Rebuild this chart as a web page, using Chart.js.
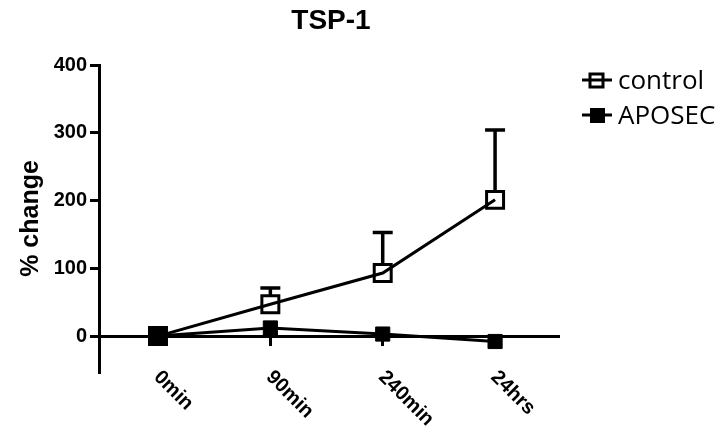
<!DOCTYPE html>
<html>
<head>
<meta charset="utf-8">
<script src="https://cdn.jsdelivr.net/npm/chart.js@4.4.0/dist/chart.umd.min.js"></script>
<style>
  html, body { margin: 0; padding: 0; background: #fff; }
  #wrap { width: 727px; height: 432px; }
</style>
</head>
<body>
<div id="wrap"><canvas id="myChart"></canvas></div>
<script>
const categories = ['0min', '90min', '240min', '24hrs'];
const controlValues = [0, 47, 93, 201];
const controlErrors = [0, 24, 60, 103];
const aposecValues = [0, 12, 3, -8];
const yTicks = [0, 100, 200, 300, 400];

const chartTitle = 'TSP-1';
const yTitle = '% change';
const seriesNames = ['control', 'APOSEC'];

const boldFont = '"Liberation Sans", Arial, sans-serif';

function toPoints(values) {
  return values.map((v, i) => ({ x: i, y: v }));
}

// error bars, tilted x labels, title and legend drawn on top
const extras = {
  id: 'extras',
  afterDatasetsDraw(chart) {
    const c = chart.ctx;
    const y = chart.scales.y;
    const meta = chart.getDatasetMeta(0);
    c.save();
    c.strokeStyle = '#000';
    c.lineWidth = 3.5;
    meta.data.forEach((pt, i) => {
      if (!controlErrors[i]) return;
      const top = y.getPixelForValue(controlValues[i] + controlErrors[i]);
      c.beginPath();
      c.moveTo(pt.x, pt.y - 9);
      c.lineTo(pt.x, top);
      c.moveTo(pt.x - 10, top);
      c.lineTo(pt.x + 10, top);
      c.stroke();
    });
    c.restore();
  },
  afterDraw(chart) {
    const c = chart.ctx;
    const x = chart.scales.x;
    c.save();
    c.fillStyle = '#000';

    c.font = 'bold 20px ' + boldFont;
    c.textAlign = 'left';
    c.textBaseline = 'alphabetic';
    categories.forEach((lab, i) => {
      const px = x.getPixelForValue(i);
      c.save();
      c.translate(px - 5, 378);
      c.rotate(Math.PI / 4);
      c.fillText(lab, 0, 0);
      c.restore();
    });

    c.font = 'bold 28px ' + boldFont;
    c.textAlign = 'center';
    c.fillText(chartTitle, 331, 29);

    c.font = '26px "Open Sans", sans-serif';
    c.textAlign = 'left';
    c.lineWidth = 3;
    c.strokeStyle = '#000';
    seriesNames.forEach((name, i) => {
      const ly = 80 + i * 35;
      c.beginPath();
      c.moveTo(582, ly);
      c.lineTo(612, ly);
      c.stroke();
      if (i === 0) {
        c.fillStyle = '#fff';
        c.fillRect(590, ly - 6, 13, 13);
        c.strokeRect(590, ly - 6, 13, 13);
        c.beginPath();
        c.moveTo(590, ly);
        c.lineTo(603, ly);
        c.stroke();
      } else {
        c.fillStyle = '#000';
        c.fillRect(590, ly - 7, 15, 15);
      }
      c.fillStyle = '#000';
      c.fillText(name, 618, ly + 9);
    });
    c.restore();
  }
};

new Chart(document.getElementById('myChart'), {
  type: 'line',
  data: {
    datasets: [{
      label: seriesNames[0],
      data: toPoints(controlValues),
      borderColor: '#000',
      borderWidth: 3,
      pointStyle: 'rect',
      pointRadius: 12,
      pointBorderWidth: 3,
      pointBorderColor: '#000',
      pointBackgroundColor: 'rgba(0,0,0,0)',
      tension: 0,
      order: 2
    }, {
      label: seriesNames[1],
      data: toPoints(aposecValues),
      borderColor: '#000',
      borderWidth: 3,
      pointStyle: 'rect',
      pointRadius: 10,
      pointBorderWidth: 1,
      pointBorderColor: '#000',
      pointBackgroundColor: '#000',
      tension: 0,
      order: 1
    }]
  },
  options: {
    responsive: true,
    maintainAspectRatio: false,
    animation: false,
    layout: { padding: { top: 65, right: 169, bottom: 60, left: 0 } },
    plugins: {
      legend: { display: false },
      title: { display: false },
      tooltip: { enabled: false }
    },
    scales: {
      x: {
        type: 'linear',
        position: { y: 0 },
        min: -0.525,
        max: 3.56,
        afterBuildTicks: s => { s.ticks = categories.map((_, i) => ({ value: i })); },
        ticks: { display: false },
        grid: { drawOnChartArea: false, drawTicks: true, tickLength: 8, color: '#000', lineWidth: 3 },
        border: { display: true, color: '#000', width: 3 }
      },
      y: {
        min: -53,
        max: 400,
        afterBuildTicks: s => { s.ticks = yTicks.map(v => ({ value: v })); },
        afterFit: s => { s.width = 99; },
        ticks: { color: '#000', padding: 3, font: { family: boldFont, size: 20, weight: 'bold' } },
        grid: { drawOnChartArea: false, drawTicks: true, tickLength: 9, color: '#000', lineWidth: 3 },
        border: { display: true, color: '#000', width: 3 },
        title: {
          display: true,
          text: yTitle,
          color: '#000',
          padding: { top: 16, bottom: 0 },
          font: { family: boldFont, size: 25, weight: 'bold' }
        }
      }
    }
  },
  plugins: [extras]
});
</script>
</body>
</html>
